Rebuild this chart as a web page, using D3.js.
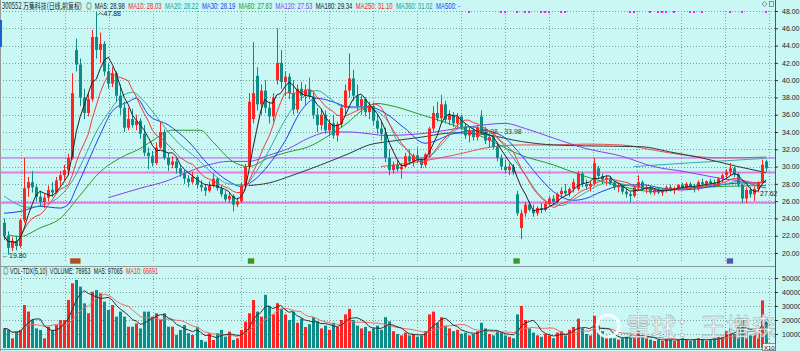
<!DOCTYPE html>
<html>
<head>
<meta charset="utf-8">
<script src="https://cdn.jsdelivr.net/npm/d3@7"></script>
<style>
  body { margin: 0; background: #c8f7f4; }
  svg { display: block; font-family: "Liberation Sans", "Noto Sans CJK SC", sans-serif; }
</style>
</head>
<body>
<div class="canva"></div>
<script>
// daily candles
const opens = [
  23.5,22.0,20.6,21.4,20.8,23.8,27.5,28.2,27.6,26.5,
  25.9,26.4,27.3,27.0,28.4,29.0,29.6,31.0,43.5,41.8,
  38.0,36.2,37.8,45.0,43.5,44.2,41.0,39.6,40.8,38.2,
  36.8,34.5,35.5,34.8,35.3,33.8,31.6,31.2,30.4,32.2,
  34.0,31.0,30.2,30.6,29.8,29.2,28.6,28.2,28.8,27.9,
  27.6,27.2,27.8,28.6,27.5,26.8,26.2,26.6,25.6,26.0,
  27.8,30.0,35.5,40.5,37.2,38.8,36.8,35.8,40.0,42.0,
  39.8,40.4,38.5,36.6,39.0,38.2,38.9,38.1,36.0,34.8,
  36.0,34.2,35.0,33.6,34.9,36.8,38.8,40.2,38.2,37.0,
  37.8,36.3,37.0,35.3,34.4,33.8,31.0,29.6,30.2,29.7,
  30.0,31.2,30.6,31.3,30.8,30.2,31.4,34.4,36.2,35.6,
  37.2,35.4,36.0,35.0,35.8,34.6,33.6,34.2,33.4,35.8,
  34.0,33.0,33.4,32.3,31.0,30.0,29.6,30.0,26.8,22.9,
  24.6,25.6,25.0,24.6,25.2,25.0,25.7,26.3,25.9,26.8,
  27.2,26.9,27.4,27.4,29.2,28.0,27.7,28.0,29.8,28.9,
  28.5,28.7,28.1,27.6,27.8,27.1,26.8,26.6,27.6,28.2,
  27.4,27.6,27.0,27.3,27.0,27.2,27.6,27.3,27.5,27.9,
  27.5,28.0,27.7,27.4,28.2,28.0,28.3,28.1,27.8,28.6,
  29.0,29.4,29.8,29.1,27.9,26.3,27.3,26.8,27.4,28.1,30.6
];
const highs = [
  24.0,22.5,21.8,22.0,24.0,31.0,28.8,29.5,28.0,27.2,
  26.8,27.8,28.2,28.8,29.5,30.2,31.5,40.8,44.8,42.5,
  39.0,38.5,45.8,47.88,45.5,44.5,42.0,41.5,41.0,39.5,
  37.5,36.8,36.7,36.0,35.6,34.8,32.2,31.8,32.8,35.2,
  34.3,31.6,31.2,30.9,30.2,29.6,29.0,29.4,29.0,28.4,
  28.0,28.3,29.2,28.8,27.8,27.2,27.0,26.8,26.4,28.2,
  30.3,38.5,44.4,41.5,39.5,40.0,37.5,38.5,46.0,43.5,
  41.0,40.8,40.0,39.5,39.8,39.5,40.3,38.6,36.8,36.6,
  36.5,35.5,36.0,35.2,37.2,39.5,43.1,41.2,39.5,38.2,
  38.0,37.5,37.4,36.0,35.2,34.5,32.0,30.6,30.8,30.4,
  31.6,32.0,31.5,32.2,31.0,31.6,34.6,37.0,37.5,38.3,
  37.6,36.5,36.3,36.2,36.0,35.0,34.5,34.6,34.8,36.5,
  34.6,33.8,33.7,32.8,31.4,30.8,30.4,30.3,27.2,25.0,
  25.9,26.0,25.6,25.4,25.8,25.9,26.6,26.7,27.0,27.6,
  28.0,27.6,28.6,29.5,29.4,28.5,28.3,31.0,30.1,29.2,
  29.0,28.9,28.3,28.1,28.0,27.4,27.1,27.8,29.0,28.4,
  27.9,27.8,27.5,27.6,27.4,27.8,27.9,27.7,28.0,28.1,
  28.2,28.2,28.0,28.4,28.6,28.4,28.6,28.5,28.8,29.2,
  29.7,30.4,30.0,29.3,28.0,27.6,27.6,27.7,28.3,30.8,30.8
];
const lows = [
  21.5,19.8,20.2,20.3,20.6,23.5,26.5,27.0,26.0,25.4,
  25.2,26.0,26.5,26.8,27.8,28.4,29.0,30.8,41.0,37.0,
  35.5,35.8,37.5,42.5,42.0,40.5,39.0,39.2,37.5,36.0,
  34.0,34.2,34.5,34.2,33.2,31.2,29.7,30.0,30.2,32.0,
  30.8,29.5,29.8,29.2,28.8,28.0,27.6,28.0,27.5,27.1,
  26.6,27.0,27.6,27.2,26.5,25.9,25.8,24.8,25.3,25.8,
  27.5,29.8,35.0,36.5,36.0,36.2,35.0,35.2,39.5,39.0,
  38.2,37.8,36.0,36.2,37.6,37.0,37.8,35.5,34.0,34.2,
  33.8,33.5,33.2,32.9,34.5,36.0,38.0,37.6,36.5,36.0,
  35.8,35.5,34.8,33.8,33.0,30.5,29.0,29.2,29.4,28.6,
  29.8,30.2,30.0,30.4,29.8,29.9,31.0,34.0,35.2,35.0,
  35.0,34.8,34.6,34.5,34.2,33.2,32.8,33.0,33.0,33.8,
  32.6,32.2,32.0,30.6,29.6,29.2,29.0,29.0,24.3,21.6,
  24.2,24.8,24.2,24.3,24.6,24.8,25.4,25.5,25.7,26.3,
  26.6,26.5,27.0,27.2,27.6,27.3,27.1,27.8,28.6,28.0,
  27.8,27.9,27.3,27.0,26.8,26.4,25.8,26.4,27.2,27.2,
  26.9,26.8,26.7,26.8,26.6,27.0,27.1,26.8,27.2,27.3,
  27.3,27.4,27.0,27.2,27.7,27.6,27.8,27.6,27.7,28.2,
  28.6,29.0,28.8,27.6,25.8,25.8,26.4,26.0,27.0,28.0,29.4
];
const closes = [
  22.0,20.6,21.4,20.8,23.8,27.5,28.2,27.6,26.5,25.9,
  26.4,27.3,27.0,28.4,29.0,29.6,31.0,38.5,41.8,38.0,
  36.2,37.8,45.0,43.5,44.2,41.0,39.6,40.8,38.2,36.8,
  34.5,35.5,34.8,35.3,33.8,31.6,31.2,30.4,32.2,34.0,
  31.0,30.2,30.6,29.8,29.2,28.6,28.2,28.8,27.9,27.6,
  27.2,27.8,28.6,27.5,26.8,26.2,26.6,25.6,26.0,27.8,
  30.0,37.5,38.5,37.2,38.8,36.8,35.8,38.0,42.0,39.8,
  40.4,38.5,36.6,39.0,38.2,38.9,38.1,36.0,34.8,36.0,
  34.2,35.0,33.6,34.9,36.8,38.8,40.2,38.2,37.0,37.8,
  36.3,37.0,35.3,34.4,33.8,31.0,29.6,30.2,29.7,30.0,
  31.2,30.6,31.3,30.8,30.2,31.4,34.4,36.2,35.6,37.2,
  35.4,36.0,35.0,35.8,34.6,33.6,34.2,33.4,34.5,34.0,
  33.0,33.4,32.3,31.0,30.0,29.6,30.0,29.3,24.6,24.6,
  25.6,25.0,24.6,25.2,25.0,25.7,26.3,25.9,26.8,27.2,
  26.9,27.4,28.2,29.2,28.0,27.7,28.0,30.4,28.9,28.5,
  28.7,28.1,27.6,27.8,27.1,26.8,26.6,27.6,28.2,27.4,
  27.6,27.0,27.3,27.0,27.2,27.6,27.3,27.5,27.9,27.5,
  28.0,27.7,27.4,28.2,28.0,28.3,28.1,27.8,28.6,29.0,
  29.4,29.8,29.1,27.9,26.3,27.3,26.8,27.4,28.1,30.2,29.8
];
const volumes = [
  14000,12900,6900,11700,12900,30700,26000,20000,14000,12900,
  6900,15200,12900,16400,20000,20000,34300,46200,48600,43800,
  31900,24800,40200,41400,39000,33100,27200,30700,22400,26000,
  22400,15200,15200,17600,14000,26000,26000,22400,24800,20000,
  24800,15200,15200,9300,12900,16400,10500,9300,15200,5700,
  4500,10500,5700,10500,12900,8100,11700,5700,6900,12900,
  18800,24800,34300,26000,22400,38000,30000,24000,32000,28000,
  24000,20000,26000,18000,21000,15000,17000,22000,19000,14000,
  16000,13000,18000,15000,20000,24000,28000,20000,16000,14000,
  15000,12000,14000,16000,13000,22000,19000,12000,10000,9000,
  11000,9000,10000,8000,9000,12000,24000,26000,18000,22000,
  16000,14000,12000,13000,10000,11000,9000,10000,12000,18000,
  14000,10000,9000,12000,11000,9000,8000,7000,24000,30000,
  20000,14000,11000,9000,8000,10000,9000,7000,11000,12000,
  9000,13000,15000,21000,14000,10000,9000,23000,16000,12000,
  9000,8000,7000,6000,7000,8000,9000,7000,12000,8000,
  7000,6000,5000,6000,5000,7000,6000,5000,6000,7000,
  6000,5000,6000,7000,6000,5000,6000,7000,8000,9000,
  12000,14000,10000,16000,20000,12000,9000,10000,14000,34000,22000
];

// longer moving averages as [day index, value]
const ma20Pts = [[0,26.6],[6,25.3],[10,25.6],[14,26.6],[17,28.3],[20,31.0],[23,34.0],[26,36.2],[29,38.0],[32,38.6],[35,37.5],[38,35.8],[41,34.0],[44,32.5],[48,31.0],[52,29.2],[56,28.0],[60,27.9],[63,29.5],[66,31.8],[69,34.5],[72,36.8],[75,38.2],[78,38.8],[81,38.0],[84,37.0],[87,36.8],[90,36.8],[93,36.4],[96,35.0],[98,33.0],[100,32.2],[103,31.0],[106,31.2],[109,32.5],[112,34.0],[115,34.6],[118,34.5],[121,34.0],[124,32.8],[127,31.0],[130,29.0],[133,27.0],[136,25.8],[139,25.5],[142,26.2],[145,27.0],[148,27.8],[151,28.2],[154,28.0],[157,27.7],[160,27.5],[165,27.4],[170,27.5],[175,27.8],[180,28.0],[183,28.3],[186,28.0],[190,28.2]];
const ma30Pts = [[0,24.6],[4,24.8],[9,25.4],[14,25.2],[16,25.6],[18,27.5],[21,30.6],[24,33.7],[27,36.4],[31,37.5],[33,37.9],[36,36.0],[41,34.8],[46,32.9],[51,30.2],[56,28.3],[59,27.7],[62,28.3],[66,30.2],[70,32.9],[74,36.4],[78,37.9],[82,37.5],[86,36.9],[91,36.9],[95,36.2],[100,34.4],[105,32.7],[112,33.8],[119,34.2],[124,33.6],[129,31.3],[133,29.0],[137,27.1],[142,26.1],[145,26.3],[149,27.1],[154,27.8],[159,27.9],[164,27.5],[169,27.3],[174,27.5],[179,27.9],[184,28.1],[187,28.1],[190,28.2]];
const ma60Pts = [[1,22.1],[4,21.9],[9,22.9],[14,24.0],[19,26.7],[24,29.4],[29,31.0],[34,32.1],[38,33.3],[42,34.2],[49,34.2],[52,32.9],[57,30.6],[61,30.0],[66,31.0],[71,31.7],[76,32.3],[81,33.6],[86,35.2],[89,36.4],[93,37.3],[96,37.1],[104,36.0],[112,34.8],[120,33.3],[129,31.3],[137,30.2],[144,29.0],[149,28.3],[154,27.7],[162,27.1],[170,27.5],[179,27.7],[190,27.8]];
const ma120Pts = [[26,26.4],[34,27.5],[41,28.4],[46,29.4],[51,30.2],[56,30.6],[61,30.6],[66,31.3],[71,32.1],[76,33.3],[81,34.0],[86,34.0],[91,33.8],[95,33.6],[104,33.8],[116,34.6],[125,35.0],[130,34.4],[137,33.3],[145,32.1],[154,31.2],[162,30.0],[170,29.4],[179,28.6],[184,28.3],[187,27.9],[190,27.5]];
const ma180Pts = [[61,27.8],[66,28.1],[72,29.0],[79,30.2],[86,31.5],[91,32.5],[96,32.9],[104,33.4],[112,33.9],[120,33.7],[129,32.9],[137,32.5],[145,32.4],[159,32.3],[166,31.7],[174,31.0],[183,30.0],[190,29.3]];
const ma250Pts = [[94,30.0],[104,30.6],[112,31.3],[122,32.3],[129,32.5],[137,32.5],[145,32.6],[154,32.5],[162,31.9],[170,31.3],[179,31.0],[190,31.1]];
const ma360Pts = [[157,30.0],[170,30.4],[179,30.65],[190,30.95]];

// drawn horizontal lines
const hLines = [31.0, 29.3, 25.8];
const infoDays = [116,124,125,128,130,131,134,135,136,139,140,156,157,161,163,164,165,167,171,172,174,181,184,190];
const eventDays = [[17.8,"x"],[61.6,"g"],[127.8,"g"],[181,"b"]];

const priceTicks = d3.range(20, 49, 2);
const volTicks = [10000, 20000, 30000, 40000, 50000];

const maLegend = [
  ["MA5", "28.98", "#222"], ["MA10", "28.03", "#f02828"], ["MA20", "28.22", "#1aa09a"],
  ["MA30", "28.19", "#1c3cf0"], ["MA60", "27.83", "#1f9a1f"], ["MA120", "27.53", "#8a3cf0"],
  ["MA180", "29.34", "#222"], ["MA250", "31.10", "#f02828"], ["MA360", "31.02", "#1aa09a"],
  ["MA500", "-", "#1c3cf0"]
];
const volLegend = [["VOLUME", "78953", "#222"], ["MA5", "97065", "#222"], ["MA10", "66691", "#f02828"]];

const W = 800, H = 351;
const UP = "#ff2424", DOWN = "#0e8c88";

const svg = d3.select(".canva").append("svg").attr("width", W).attr("height", H);
svg.append("rect").attr("width", W).attr("height", H).attr("fill", "#c8f7f4");

const x = d3.scaleLinear().domain([0, 190]).range([4, 766]);
const y = d3.scaleLinear().domain([20, 48]).range([253, 11]);
const yv = d3.scaleLinear().domain([0, 50000]).range([348, 278]);
const px = i => Math.round(x(i)) + 0.5;

const candles = closes.map((c, i) => ({ i, o: opens[i], h: highs[i], l: lows[i], c, v: volumes[i] }));

// grid
const grid = svg.append("g").attr("stroke", "#7f9c9c").attr("stroke-dasharray", "1,2").attr("stroke-width", 1);
d3.range(21, 770, 44).forEach(gx => {
  grid.append("line").attr("x1", gx + 0.5).attr("x2", gx + 0.5).attr("y1", 11).attr("y2", 262);
  grid.append("line").attr("x1", gx + 0.5).attr("x2", gx + 0.5).attr("y1", 276).attr("y2", 348);
});
priceTicks.forEach(t => grid.append("line").attr("x1", 0).attr("x2", 775)
  .attr("y1", Math.round(y(t)) + 0.5).attr("y2", Math.round(y(t)) + 0.5));
volTicks.forEach(t => grid.append("line").attr("x1", 0).attr("x2", 775)
  .attr("y1", Math.round(yv(t)) + 0.5).attr("y2", Math.round(yv(t)) + 0.5));

// horizontal drawn lines
svg.append("line").attr("x1", 0).attr("x2", 775).attr("y1", y(hLines[0])).attr("y2", y(hLines[0]))
  .attr("stroke", "#c84cf0").attr("stroke-width", 1);
hLines.slice(1).forEach(v => svg.append("line").attr("x1", 0).attr("x2", 775).attr("y1", y(v)).attr("y2", y(v))
  .attr("stroke", "#df7ee6").attr("stroke-width", 2));

// long moving averages
const smooth = d3.line().x(d => x(d[0])).y(d => y(d[1])).curve(d3.curveMonotoneX);
[[ma360Pts, "#3aaaa6"], [ma250Pts, "#e85050"], [ma180Pts, "#383838"], [ma120Pts, "#8a3cf0"],
 [ma60Pts, "#2a9a2a"], [ma30Pts, "#2040f0"], [ma20Pts, "#3aa8a0"]].forEach(([pts, col]) => {
  svg.append("path").attr("d", smooth(pts)).attr("fill", "none").attr("stroke", col).attr("stroke-width", 1);
});

// candles
const cg = svg.append("g");
cg.selectAll("line").data(candles).join("line")
  .attr("x1", d => px(d.i)).attr("x2", d => px(d.i))
  .attr("y1", d => y(d.h)).attr("y2", d => y(d.l))
  .attr("stroke", d => d.c >= d.o ? UP : DOWN).attr("stroke-width", 1);
cg.selectAll("rect").data(candles).join("rect")
  .attr("x", d => Math.round(x(d.i)) - 1).attr("width", 3)
  .attr("y", d => y(Math.max(d.o, d.c)))
  .attr("height", d => Math.max(1, Math.abs(y(d.o) - y(d.c))))
  .attr("fill", d => d.c >= d.o ? UP : DOWN);

// short moving averages from closes
const movAvg = (arr, n) => arr.map((v, i) => d3.mean(arr.slice(Math.max(0, i - n + 1), i + 1)));
const ma5 = movAvg(closes, 5), ma10 = movAvg(closes, 10);
const straight = d3.line().x((d, i) => x(i)).y(d => y(d));
svg.append("path").attr("d", straight(ma10)).attr("fill", "none").attr("stroke", "#f03a3a").attr("stroke-width", 1);
svg.append("path").attr("d", straight(ma5)).attr("fill", "none").attr("stroke", "#222").attr("stroke-width", 1);

// info mine dots
svg.selectAll(".info").data(infoDays).join("rect").attr("class", "info")
  .attr("x", d => Math.round(x(d)) - 1).attr("y", 11).attr("width", 2).attr("height", 2).attr("fill", "#f020f0");

// event markers
const evCol = { x: "#a8502c", g: "#2c9a3a", b: "#3c5cc4" };
eventDays.forEach(([d, k]) => {
  const w = k === "x" ? 11 : 7;
  svg.append("rect").attr("x", x(d) - w / 2).attr("y", 258).attr("width", w).attr("height", 6)
    .attr("fill", evCol[k]).attr("stroke", "#f4f4c0").attr("stroke-width", 0.6);
});

// price annotations
const ann = svg.append("g").attr("font-size", 7).attr("fill", "#222");
ann.append("path").attr("d", `M${px(23) + 1},${y(47.88) + 3}l3,-2l3,2`).attr("fill", "none").attr("stroke", "#222").attr("stroke-width", 0.7);
ann.append("text").attr("x", px(23) + 7).attr("y", y(47.88) + 4).text("47.88");
ann.append("text").attr("x", 2).attr("y", y(19.8) + 3).text("\u219019.80");
ann.append("text").attr("x", x(118.8)).attr("y", y(34.03) + 2).attr("fill", "#444").text("34.08 - 33.98");
ann.append("text").attr("x", 760).attr("y", y(27.62) + 9).text("27.62");

// volume bars
const vg = svg.append("g");
vg.selectAll("rect").data(candles).join("rect")
  .attr("x", d => Math.round(x(d.i)) - 1).attr("width", 3)
  .attr("y", d => yv(d.v)).attr("height", d => 348 - yv(d.v))
  .attr("fill", d => d.c >= d.o ? UP : DOWN);
const vma5 = movAvg(volumes, 5), vma10 = movAvg(volumes, 10);
const vline = d3.line().x((d, i) => x(i)).y(d => yv(d));
svg.append("path").attr("d", vline(vma10)).attr("fill", "none").attr("stroke", "#f06a6a").attr("stroke-width", 1);
svg.append("path").attr("d", vline(vma5)).attr("fill", "none").attr("stroke", "#333").attr("stroke-width", 1);

// watermark
const wm = svg.append("g").attr("opacity", 0.9);
wm.append("circle").attr("cx", 608).attr("cy", 326).attr("r", 11).attr("fill", "none").attr("stroke", "#fff").attr("stroke-width", 3);
wm.append("text").attr("x", 626).attr("y", 336).attr("font-size", 25)
  .attr("font-family", "Noto Sans CJK SC").attr("fill", "#fff").attr("stroke", "#9aa").attr("stroke-width", 0.6)
  .text("雪球：王增森");

// frame and separators
svg.append("line").attr("x1", 775.5).attr("x2", 775.5).attr("y1", 0).attr("y2", H).attr("stroke", "#555");
svg.append("line").attr("x1", 0.5).attr("x2", 0.5).attr("y1", 0).attr("y2", H).attr("stroke", "#999");
svg.append("line").attr("x1", 0).attr("x2", 775).attr("y1", 266.5).attr("y2", 266.5).attr("stroke", "#8a9a9a");
svg.append("line").attr("x1", 0).attr("x2", 775).attr("y1", 349.5).attr("y2", 349.5).attr("stroke", "#8a9a9a");
svg.append("rect").attr("x", 0).attr("y", 20).attr("width", 2).attr("height", 27).attr("fill", "#1f5fd0");

// right axes
const axP = svg.append("g").attr("transform", "translate(775,0)")
  .call(d3.axisRight(y).tickValues(priceTicks).tickFormat(d3.format(".2f")).tickSize(3).tickPadding(4));
const axV = svg.append("g").attr("transform", "translate(775,0)")
  .call(d3.axisRight(yv).tickValues(volTicks).tickFormat(d3.format("d")).tickSize(3).tickPadding(4));
[axP, axV].forEach(a => {
  a.select(".domain").remove();
  a.selectAll("line").attr("stroke", "#333");
  a.selectAll("text").attr("font-size", 7).attr("fill", "#222").attr("font-family", "Liberation Sans");
});
svg.append("rect").attr("x", 762.5).attr("y", 343.5).attr("width", 13).attr("height", 7).attr("fill", "#e8f4f4").attr("stroke", "#555").attr("stroke-width", 0.6);
svg.append("text").attr("x", 764).attr("y", 349.5).attr("font-size", 6).attr("fill", "#222").text("X10");
svg.append("path").attr("d", "M762,4l2.5,-2.5l2.5,2.5l-2.5,2.5z").attr("fill", "none").attr("stroke", "#666").attr("stroke-width", 0.7);
svg.append("rect").attr("x", 769.5).attr("y", 1.5).attr("width", 4).attr("height", 5).attr("fill", "none").attr("stroke", "#666").attr("stroke-width", 0.7);

// header rows, squeezed to the picture's spacing
function legendRow(items, startX, endX, yy, prefix) {
  const g = svg.append("g").attr("font-size", 8.5);
  let cx = 0;
  if (prefix) {
    g.append("text").attr("x", 0).attr("y", yy).attr("fill", "#222").text(prefix);
    cx = g.select("text").node().getComputedTextLength() + 4;
  }
  items.forEach(([k, v, col]) => {
    const t = g.append("text").attr("x", cx).attr("y", yy).attr("fill", col).text(`${k}: ${v}`);
    cx += t.node().getComputedTextLength() + 5;
  });
  const s = (endX - startX) / (cx - 5);
  g.attr("transform", `translate(${startX},0) scale(${s},1)`);
}
const title = svg.append("text").attr("x", 0).attr("y", 9).attr("font-size", 8.5)
  .attr("font-family", "Noto Sans CJK SC").attr("fill", "#222").text("300552 万集科技(日线,前复权)");
const tl = title.node().getComputedTextLength();
title.attr("transform", `translate(2,0) scale(${80 / tl},1)`);
legendRow(maLegend, 86, 460, 9, "\u25CE");
legendRow(volLegend, 3, 158, 274, "\u25CE VOL-TDX(5,10)");
</script>
</body>
</html>
